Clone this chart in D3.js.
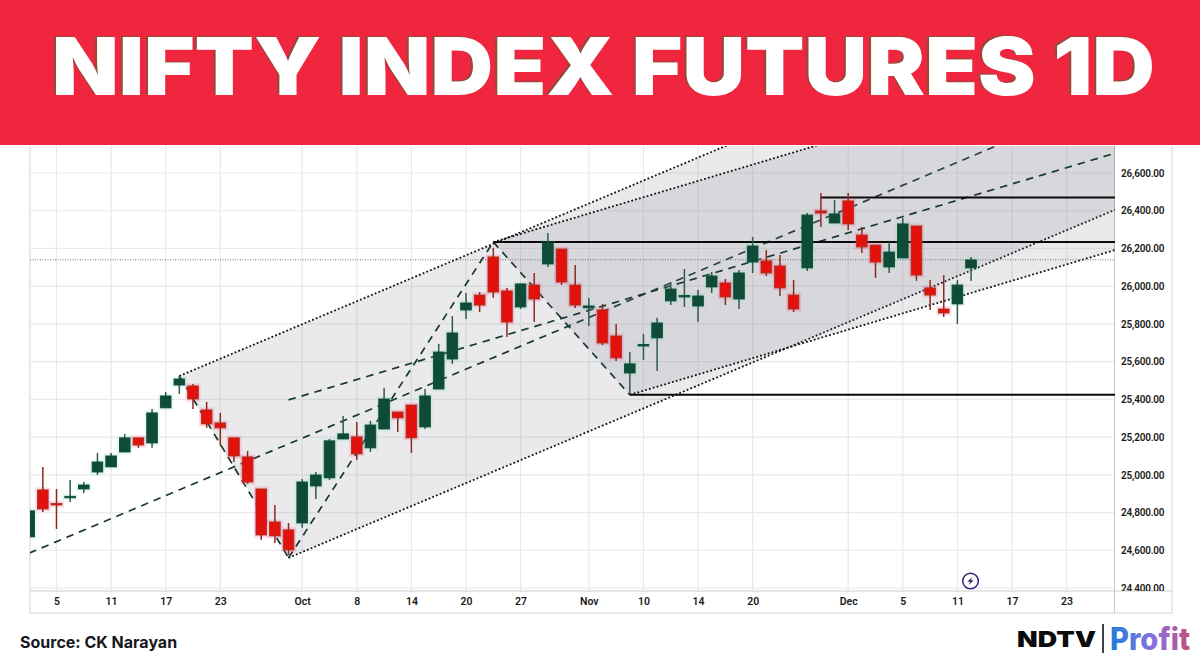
<!DOCTYPE html>
<html>
<head>
<meta charset="utf-8">
<title>Nifty Index Futures 1D</title>
<script src="https://cdn.jsdelivr.net/npm/d3@7"></script>
<style>
  html, body { margin:0; padding:0; background:#fff; }
  svg { display:block; }
  .axis text { fill:#1a1a1a; font-family:Roboto, sans-serif; font-weight:600; font-size:10px; letter-spacing:-0.2px; }
  .axis.time text { font-size:10.5px; letter-spacing:0; }
  .axis path, .axis line { display:none; }
</style>
</head>
<body>
<div id="chart"></div>
<script>
const opens  = [24671,24920,24848,24880,24925,25015,25042,25121,25196,25169,25355,25476,25471,25344,25275,25196,25095,24925,24750,24708,24745,24941,24984,25190,25201,25143,25243,25333,25370,25254,25455,25614,25874,25953,26155,25975,25890,26006,26118,26197,26006,25885,25874,25736,25540,25686,25726,25922,25946,25895,25996,26017,25932,26128,26134,26107,25953,26097,26399,26335,26452,26271,26218,26102,26150,26319,25991,25879,25906,26097];
const highs  = [24809,25042,24925,24973,24962,25116,25116,25217,25196,25349,25439,25524,25482,25386,25328,25196,25127,24925,24840,24745,24978,25015,25190,25312,25280,25286,25461,25333,25370,25455,25694,25842,25964,25969,26203,25991,26012,26070,26282,26197,26112,25938,25906,25800,25651,25747,25832,26022,26091,25980,26075,26038,26086,26261,26192,26165,26033,26388,26494,26457,26494,26314,26218,26234,26362,26319,26033,26059,26033,26155];
const lows   = [24671,24803,24713,24856,24904,24999,25042,25121,25143,25143,25355,25429,25349,25249,25153,25068,24952,24655,24639,24575,24719,24872,24973,25190,25079,25121,25243,25227,25116,25243,25455,25588,25826,25863,25938,25731,25879,25810,26102,26006,25885,25789,25688,25604,25429,25609,25551,25900,25890,25810,25964,25900,25879,26070,26054,25948,25863,26081,26314,26335,26298,26176,26044,26070,26150,26028,25874,25837,25800,26028];
const closes = [24809,24819,24840,24886,24946,25068,25100,25196,25158,25328,25418,25508,25402,25270,25249,25100,24962,24681,24676,24602,24962,24999,25180,25217,25111,25264,25402,25302,25196,25418,25651,25752,25911,25900,25969,25810,26012,25932,26229,26022,25900,25895,25699,25620,25588,25691,25805,25985,25951,25948,26054,25943,26070,26213,26070,25991,25879,26377,26388,26383,26330,26208,26128,26181,26330,26059,25953,25858,26006,26139];

const priceTicks = [24400,24600,24800,25000,25200,25400,25600,25800,26000,26200,26400,26600];
const timeTickIndex = [2,6,10,14,20,24,28,32,36,41,45,49,53,60,64,68,72,76];
const timeTickLabel = ["5","11","17","23","Oct","8","14","20","27","Nov","10","14","20","Dec","5","11","17","23"];

// pitchfork anchors, [bar index, price]
const fork1 = [[0,24585],[11,25524],[19,24560]];
const fork2 = [[19,25397],[34,26234],[44,25424]];
// horizontal levels, [start bar, price]
const levels = [[34,26234],[44,25424],[58,26470]];
const lastPrice = 26140;
const lastBar = 80;

const width = 1200, height = 661;
const pane = {left:30, right:1115, top:146, bottom:591};

const svg = d3.select("#chart").append("svg")
  .attr("width", width)
  .attr("height", height)
  .attr("viewBox", `0 0 ${width} ${height}`);

const x = d3.scaleLinear().domain([0, 79.4]).range([29.2, 1113]);
const y = d3.scaleLinear().domain([24400, 26600]).range([588, 173]);

const defs = svg.append("defs");
defs.append("clipPath").attr("id","paneClip").append("rect")
  .attr("x", pane.left).attr("y", pane.top)
  .attr("width", pane.right - pane.left).attr("height", pane.bottom - pane.top);
defs.append("clipPath").attr("id","priceClip").append("rect")
  .attr("x", pane.right).attr("y", pane.top)
  .attr("width", 57).attr("height", pane.bottom - pane.top);
const grad = defs.append("linearGradient").attr("id","profitGrad");
grad.append("stop").attr("offset","0%").attr("stop-color","#1f7fd6");
grad.append("stop").attr("offset","55%").attr("stop-color","#8a6fe0");
grad.append("stop").attr("offset","100%").attr("stop-color","#c2507f");

// grid
const grid = svg.append("g").attr("stroke","#e9e9ec").attr("stroke-width",1.2);
grid.selectAll(".v").data(timeTickIndex).enter().append("line")
  .attr("x1", d => x(d)).attr("x2", d => x(d))
  .attr("y1", pane.top).attr("y2", pane.bottom);
grid.selectAll(".h").data(priceTicks).enter().append("line")
  .attr("x1", pane.left).attr("x2", pane.right)
  .attr("y1", d => y(d)).attr("y2", d => y(d));

// frame
const frame = svg.append("g").attr("fill","none");
frame.append("path")
  .attr("d", `M${pane.left},${pane.top}V613H1172V${pane.top}`)
  .attr("stroke","#e2e2e2").attr("stroke-width",1.5);
frame.append("line").attr("x1",pane.left).attr("x2",1172).attr("y1",591).attr("y2",591)
  .attr("stroke","#dedede").attr("stroke-width",1.5);
frame.append("line").attr("x1",1114.5).attr("x2",1114.5).attr("y1",pane.top).attr("y2",613)
  .attr("stroke","#c9c9c9").attr("stroke-width",1);

const plot = svg.append("g").attr("clip-path","url(#paneClip)");

function drawFork(f) {
  const [pivot, a, b] = f;
  const mid = [(a[0]+b[0])/2, (a[1]+b[1])/2];
  const slope = (mid[1]-pivot[1])/(mid[0]-pivot[0]);
  const at = (p, i) => [i, p[1] + slope*(i-p[0])];
  const xy = p => [x(p[0]), y(p[1])];
  const line = d3.line().x(d => x(d[0])).y(d => y(d[1]));

  plot.append("path")
    .attr("d", "M" + [a, at(a,lastBar), at(b,lastBar), b].map(xy).join("L") + "Z")
    .attr("fill","rgba(120,123,134,0.155)");

  // tines
  [a, b].forEach(p => {
    plot.append("path").attr("d", line([p, at(p,lastBar)]))
      .attr("fill","none").attr("stroke","#111")
      .attr("stroke-width",1.8).attr("stroke-dasharray","1.8 2.2");
  });
  // median
  plot.append("path").attr("d", line([pivot, at(pivot,lastBar)]))
    .attr("fill","none").attr("stroke","#17392f")
    .attr("stroke-width",1.7).attr("stroke-dasharray","7.5 6");
  return {a, b};
}
const f1 = drawFork(fork1);
const f2 = drawFork(fork2);

// swing legs joining the fork anchors
const swing = d3.line().x(d => x(d[0])).y(d => y(d[1]));
[[f1.a,f1.b],[f1.b,f2.a],[f2.a,f2.b]].forEach(seg => {
  plot.append("path").attr("d", swing(seg))
    .attr("fill","none").attr("stroke","#17392f")
    .attr("stroke-width",1.7).attr("stroke-dasharray","7.5 6");
});

// levels
plot.selectAll(".level").data(levels).enter().append("line")
  .attr("x1", d => x(d[0])).attr("x2", pane.right)
  .attr("y1", d => y(d[1])).attr("y2", d => y(d[1]))
  .attr("stroke","#0a0a0a").attr("stroke-width",2);

// last price
plot.append("line")
  .attr("x1", pane.left).attr("x2", pane.right)
  .attr("y1", y(lastPrice)).attr("y2", y(lastPrice))
  .attr("stroke","#6f7a78").attr("stroke-width",1).attr("stroke-dasharray","1 1.5");

// candles
const candles = plot.selectAll(".candle").data(opens.map((o,i) => ({i, o, h:highs[i], l:lows[i], c:closes[i]})))
  .enter().append("g");
// soft fringe round the bodies
candles.append("rect")
  .attr("x", d => x(d.i) - 7.5)
  .attr("width", 15)
  .attr("y", d => y(Math.max(d.o,d.c)) - 2.5)
  .attr("height", d => Math.abs(y(d.o)-y(d.c)) + 5)
  .attr("fill", d => d.c >= d.o ? "#48d8b4" : "#ff3d85")
  .attr("opacity", d => d.c >= d.o ? 0.13 : 0.2);
candles.append("line")
  .attr("x1", d => x(d.i)).attr("x2", d => x(d.i))
  .attr("y1", d => y(d.h)).attr("y2", d => y(d.l))
  .attr("stroke", d => d.c >= d.o ? "#2f5a4c" : "#8c2a1e")
  .attr("stroke-width",1.5);
candles.append("rect")
  .attr("x", d => x(d.i) - 5.3)
  .attr("width", 10.6)
  .attr("y", d => y(Math.max(d.o,d.c)))
  .attr("height", d => Math.max(1.5, Math.abs(y(d.o)-y(d.c))))
  .attr("fill", d => d.c >= d.o ? "#0e4c37" : "#e2110e")
  .attr("stroke", d => d.c >= d.o ? "#0e4c37" : "#a8341a")
  .attr("stroke-width",0.9);

// axes
svg.append("g").attr("clip-path","url(#priceClip)")
  .append("g").attr("class","axis")
  .attr("transform","translate(1115,0)")
  .call(d3.axisRight(y).tickValues(priceTicks).tickSize(0).tickPadding(6)
    .tickFormat(d => d3.format(",.2f")(d)));

svg.append("g").attr("class","axis time")
  .attr("transform","translate(0,591)")
  .call(d3.axisBottom(x).tickValues(timeTickIndex).tickSize(0).tickPadding(7)
    .tickFormat((d,i) => timeTickLabel[i]));

// lightning marker
const marker = svg.append("g").attr("transform",`translate(${x(69)-0.5},581)`);
marker.append("circle").attr("r",7.8).attr("fill","#fff").attr("stroke","#3a1f7d").attr("stroke-width",1.5);
marker.append("path").attr("d","M1.8,-4 L-3.2,0.8 H-0.4 L-1.8,4 L3.2,-0.8 H0.4 Z").attr("fill","#3a1f7d");

// title band
svg.append("rect").attr("width",width).attr("height",145).attr("fill","#f0263f");
svg.append("text")
  .attr("x",52).attr("y",95)
  .attr("textLength",1103).attr("lengthAdjust","spacingAndGlyphs")
  .attr("fill","#fff")
  .style("font-family","Inter, 'Open Sans', sans-serif")
  .style("font-weight",900)
  .style("font-size","80px")
  .style("filter","drop-shadow(-1.5px -1px 0 #8f4a38)")
  .text("NIFTY INDEX FUTURES 1D");

// footer
svg.append("text")
  .attr("x",20).attr("y",648)
  .attr("fill","#17171f")
  .style("font-family","Inter, sans-serif")
  .style("font-weight",700)
  .style("font-size","16px")
  .text("Source: CK Narayan");

svg.append("text")
  .attr("x",1017).attr("y",647)
  .attr("textLength",79).attr("lengthAdjust","spacingAndGlyphs")
  .attr("fill","#0b0b0b")
  .style("font-family","Inter, sans-serif")
  .style("font-weight",900)
  .style("font-size","22px")
  .text("NDTV");
svg.append("line").attr("x1",1103).attr("x2",1103).attr("y1",624).attr("y2",653)
  .attr("stroke","#111").attr("stroke-width",1.6);
svg.append("text")
  .attr("x",1110).attr("y",650)
  .attr("textLength",80).attr("lengthAdjust","spacingAndGlyphs")
  .attr("fill","url(#profitGrad)")
  .style("font-family","Inter, sans-serif")
  .style("font-weight",800)
  .style("font-size","31px")
  .text("Profit");
</script>
</body>
</html>
